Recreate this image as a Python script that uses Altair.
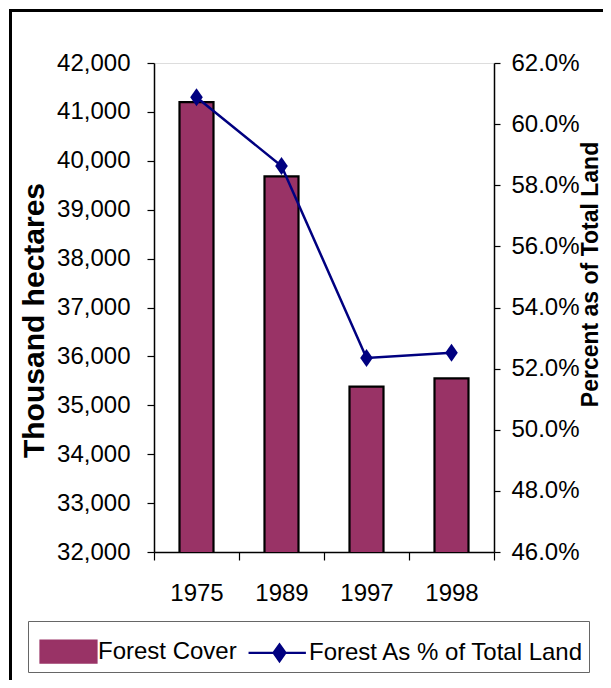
import altair as alt
import pandas as pd

years = ["1975", "1989", "1997", "1998"]
forest_cover = [41200, 39680, 35380, 35550]          # thousand hectares
forest_pct = [60.88, 58.63, 52.35, 52.52]            # percent of total land
series_names = ["Forest Cover", "Forest As % of Total Land"]
left_ticks = [32000, 33000, 34000, 35000, 36000, 37000, 38000, 39000, 40000, 41000, 42000]
right_ticks = [46, 48, 50, 52, 54, 56, 58, 60, 62]

BAR = "#993366"
NAVY = "#000080"
FONT = "Liberation Sans"

bars_df = pd.DataFrame({"year": years, "value": forest_cover, "series": series_names[0]})
line_df = pd.DataFrame({"year": years, "pct": forest_pct, "series": series_names[1]})

x_enc = alt.X(
    "year:N",
    sort=years,
    scale=alt.Scale(paddingInner=0, paddingOuter=0),
    axis=alt.Axis(
        title=None, tickBand="extent", labelAngle=0, tickSize=8, labelPadding=21,
        labelFontSize=24, labelFont=FONT, labelColor="black",
        domainColor="black", domainWidth=1.5, tickColor="black", tickWidth=1.2,
    ),
)

color_scale = alt.Scale(domain=series_names, range=[BAR, NAVY])

legend = alt.Legend(
    orient="none", legendX=-126, legendY=558, direction="horizontal", title=None,
    symbolType={"expr": "datum.value == 'Forest Cover' ? 'M-1.1667,-0.458H1.1667V0.458H-1.1667Z' : 'M-1.29,0H1.1M0,-0.354L0.25,0L0,0.354L-0.25,0Z'"},
    symbolFillColor={"expr": "datum.value == 'Forest Cover' ? '#993366' : '#000080'"},
    symbolStrokeColor={"expr": "datum.value == 'Forest Cover' ? 'black' : '#000080'"},
    symbolStrokeWidth=2.2, symbolSize=2304, symbolOpacity=1, symbolOffset=10,
    labelFontSize=24, labelFont=FONT, labelColor="black", labelOffset=4, labelLimit=400,
    columnPadding=7, padding=5, strokeColor="#666666", fillColor="white",
)

bars = alt.Chart(bars_df).mark_bar(
    stroke="black", strokeWidth=2.2, width={"band": 0.4}, clip=True
).encode(
    x=x_enc,
    y=alt.Y(
        "value:Q",
        scale=alt.Scale(domain=[32000, 42000], zero=False, nice=False),
        axis=alt.Axis(
            title="Thousand hectares", values=left_ticks, format=",.0f", grid=False,
            tickSize=7, labelPadding=17, labelFontSize=24, labelFont=FONT, labelColor="black",
            domainColor="black", domainWidth=1.5, tickColor="black", tickWidth=1.2,
            titleFontSize=30, titleFont=FONT, titleFontWeight="bold", titleColor="black",
            titleX=-120, titleY=257, titleBaseline="middle", titleAngle=270,
        ),
    ),
    color=alt.Color("series:N", scale=color_scale, legend=legend),
)

line = alt.Chart(line_df).mark_line(
    strokeWidth=2.5,
    point=alt.OverlayMarkDef(
        shape="M0,-1L0.7,0L0,1L-0.7,0Z", size=324, filled=True, fill=NAVY, opacity=1
    ),
).encode(
    x=alt.X("year:N", sort=years),
    y=alt.Y(
        "pct:Q",
        scale=alt.Scale(domain=[46, 62], zero=False, nice=False),
        axis=alt.Axis(
            orient="right", title="Percent as of Total Land", values=right_ticks, grid=False,
            labelExpr="format(datum.value, '.1f') + '%'",
            tickSize=6, labelPadding=11, labelFontSize=24, labelFont=FONT, labelColor="black",
            domainColor="black", domainWidth=1.5, tickColor="black", tickWidth=1.2,
            titleFontSize=23, titleFont=FONT, titleFontWeight="bold", titleColor="black",
            titleX=96, titleY=211, titleBaseline="middle", titleAngle=270,
        ),
    ),
    color=alt.Color("series:N", scale=color_scale, legend=None),
)

frame = alt.Chart(alt.Data(values=[{"frame": 1}])).mark_rect(
    fill="transparent", stroke="black", strokeWidth=3, clip=False
).encode(
    x=alt.value(-143.5), x2=alt.value(480), y=alt.value(-52.5), y2=alt.value(660)
)

chart = (
    alt.layer(frame, bars, line)
    .resolve_scale(y="independent")
    .properties(
        width=340, height=489,
        autosize=alt.AutoSizeParams(type="none"),
        padding={"left": 146, "top": 55, "right": 109, "bottom": 128},
    )
    .configure_view(fill="#C0C0C0", stroke="#808080", strokeWidth=2)
    .configure(background="white")
)

chart.save("out.html", embed_options={"renderer": "svg", "actions": False})
